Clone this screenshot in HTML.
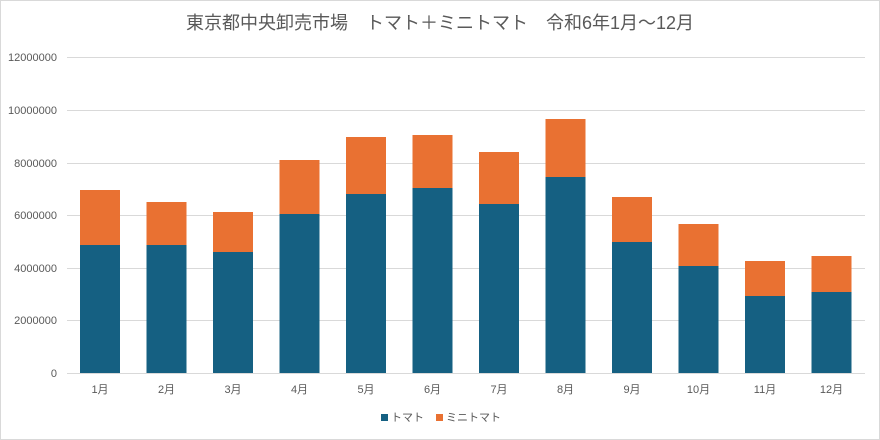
<!DOCTYPE html>
<html><head><meta charset="utf-8"><style>
body{margin:0;background:#fff;}
svg{display:block;font-family:"Liberation Sans","Noto Sans CJK JP",sans-serif;}
</style></head><body>
<svg width="880" height="440" viewBox="0 0 880 440">
<rect x="0.5" y="0.5" width="879" height="439" fill="#fff" stroke="#d9d9d9"/>
<text x="440" y="29" text-anchor="middle" font-size="18" fill="#595959">東京都中央卸売市場　トマト＋ミニトマト　令和6年1月～12月</text>
<g stroke="#d9d9d9" stroke-width="1">
<line x1="67" x2="865" y1="57.5" y2="57.5"/>
<line x1="67" x2="865" y1="110.5" y2="110.5"/>
<line x1="67" x2="865" y1="163.5" y2="163.5"/>
<line x1="67" x2="865" y1="215.5" y2="215.5"/>
<line x1="67" x2="865" y1="268.5" y2="268.5"/>
<line x1="67" x2="865" y1="320.5" y2="320.5"/>
<line x1="67" x2="865" y1="373.5" y2="373.5"/>
</g>
<g font-size="11" fill="#595959" text-anchor="end">
<text x="57" y="61">12000000</text>
<text x="57" y="114">10000000</text>
<text x="57" y="167">8000000</text>
<text x="57" y="219">6000000</text>
<text x="57" y="272">4000000</text>
<text x="57" y="324">2000000</text>
<text x="57" y="377">0</text>
</g>
<g id="bars"></g>
<g font-size="11" fill="#595959" text-anchor="middle" id="xl"></g>
<rect x="381" y="414" width="7" height="7" fill="#156082"/>
<text x="391" y="421" font-size="11" fill="#595959">トマト</text>
<rect x="436" y="414" width="7" height="7" fill="#e97132"/>
<text x="446" y="421" font-size="11" fill="#595959">ミニトマト</text>
</svg>
<script>
var b=[245,245,252,214,194,188,204,177,242,266,296,292];
var t=[190,202,212,160,137,135,152,119,197,224,261,256];
var g=document.getElementById('bars'),xl=document.getElementById('xl'),ns='http://www.w3.org/2000/svg';
for(var i=0;i<12;i++){var c=100+i*66.5;
var r=document.createElementNS(ns,'rect');r.setAttribute('x',c-20);r.setAttribute('y',b[i]);r.setAttribute('width',40);r.setAttribute('height',373-b[i]);r.setAttribute('fill','#156082');g.appendChild(r);
r=document.createElementNS(ns,'rect');r.setAttribute('x',c-20);r.setAttribute('y',t[i]);r.setAttribute('width',40);r.setAttribute('height',b[i]-t[i]);r.setAttribute('fill','#e97132');g.appendChild(r);
var tx=document.createElementNS(ns,'text');tx.setAttribute('x',c);tx.setAttribute('y',393);tx.textContent=(i+1)+'月';xl.appendChild(tx);}
</script>
</body></html>
